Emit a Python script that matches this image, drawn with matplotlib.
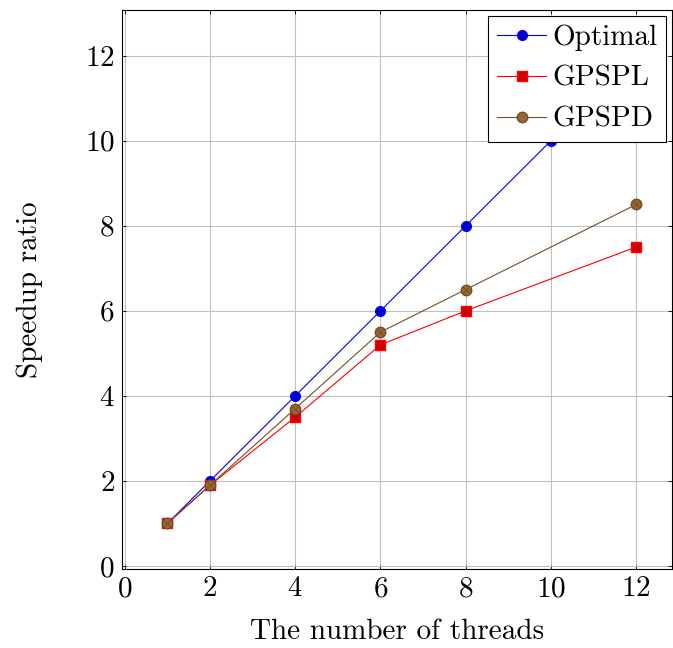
import matplotlib
matplotlib.use("Agg")
import matplotlib.pyplot as plt

plt.rcParams['font.family'] = 'cmr10'
plt.rcParams['mathtext.fontset'] = 'cm'
plt.rcParams['axes.formatter.use_mathtext'] = True

threads = [1, 2, 4, 6, 8, 10, 12]
optimal = [1, 2, 4, 6, 8, 10, 12]

threads_gps = [1, 2, 4, 6, 8, 12]
gpspl = [1.0, 1.9, 3.5, 5.2, 6.0, 7.5]
gpspd = [1.0, 1.9, 3.7, 5.5, 6.5, 8.5]

xticks = [0, 2, 4, 6, 8, 10, 12]
yticks = [0, 2, 4, 6, 8, 10, 12]

fig = plt.figure(figsize=(6.73, 6.48), dpi=100)
ax = fig.add_axes([0.181, 0.122, 0.8175, 0.863])

ax.plot(threads, optimal, color='#0000ff', lw=0.8, marker='o', ms=7,
        mfc='#0000cc', mec='#0000ff', label='Optimal', zorder=3)
ax.plot(threads_gps, gpspl, color='#ff0000', lw=0.8, marker='s', ms=7,
        mfc='#cc0000', mec='#ff0000', label='GPSPL', zorder=3)
ax.plot(threads_gps, gpspd, color='#734d26', lw=0.8, marker='o', ms=7.5,
        mfc='#996633', mec='#734d26', label='GPSPD', zorder=3)
# the cross inside the brown marks
ax.plot(threads_gps, gpspd, ls='none', marker='x', ms=5, mew=0.6,
        color='#734d26', zorder=4)

ax.set_xlim(-0.07, 12.84)
ax.set_ylim(-0.07, 13.08)
ax.set_xticks(xticks)
ax.set_yticks(yticks)
ax.tick_params(direction='in', top=True, right=True, length=3,
               labelsize=21, width=0.6, pad=5)
ax.grid(True, color='#bfbfbf', lw=0.8)
ax.set_axisbelow(True)
for s in ax.spines.values():
    s.set_linewidth(0.8)

ax.set_xlabel('The number of threads', fontsize=21, labelpad=12)
ax.set_ylabel('Speedup ratio', fontsize=21, labelpad=30)

leg = ax.legend(loc='upper right', fontsize=21, fancybox=False,
                edgecolor='black', framealpha=1, borderpad=0.3,
                labelspacing=0.5, handlelength=1.7, handletextpad=0.2,
                borderaxespad=0.2)
leg.get_frame().set_linewidth(0.8)

fig.savefig('out.png', dpi=100)
